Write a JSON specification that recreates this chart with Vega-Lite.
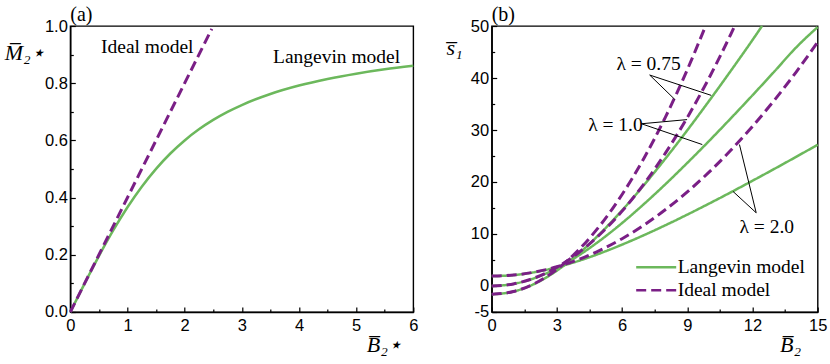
{
  "$schema": "https://vega.github.io/schema/vega-lite/v6.json",
  "padding": {"left": 3.3, "top": 4, "right": 0, "bottom": 0},
  "bounds": "flush",
  "spacing": 78.4,
  "config": {
    "view": {"stroke": "black", "strokeWidth": 1.4},
    "axis": {"grid": false, "domainColor": "black", "domainWidth": 1.4, "tickColor": "black", "tickWidth": 1.2,
      "labelFont": "Liberation Sans", "labelFontSize": 16.5, "labelColor": "black",
      "titleFont": "Liberation Serif", "titleFontStyle": "italic", "titleFontWeight": "normal", "titleFontSize": 22, "titleColor": "black"},
    "title": {"font": "Liberation Serif", "fontSize": 20, "fontWeight": "normal", "anchor": "start", "frame": "group", "baseline": "alphabetic", "offset": -7, "color": "black"},
    "text": {"font": "Liberation Serif", "fontSize": 19.5, "color": "black"}
  },
  "resolve": {"scale": {"color": "independent", "strokeDash": "independent"}},
  "hconcat": [
    {
      "width": 343, "height": 286,
      "title": "(a)",
      "data": {"values": [
        {"B": 0, "M": 0, "model": "Langevin model"},
        {"B": 0.25, "M": 0.0994, "model": "Langevin model"},
        {"B": 0.5, "M": 0.1954, "model": "Langevin model"},
        {"B": 0.75, "M": 0.2850, "model": "Langevin model"},
        {"B": 1, "M": 0.3662, "model": "Langevin model"},
        {"B": 1.25, "M": 0.4381, "model": "Langevin model"},
        {"B": 1.5, "M": 0.5006, "model": "Langevin model"},
        {"B": 1.75, "M": 0.5542, "model": "Langevin model"},
        {"B": 2, "M": 0.5999, "model": "Langevin model"},
        {"B": 2.25, "M": 0.6387, "model": "Langevin model"},
        {"B": 2.5, "M": 0.6716, "model": "Langevin model"},
        {"B": 2.75, "M": 0.6997, "model": "Langevin model"},
        {"B": 3, "M": 0.7237, "model": "Langevin model"},
        {"B": 3.5, "M": 0.7624, "model": "Langevin model"},
        {"B": 4, "M": 0.7918, "model": "Langevin model"},
        {"B": 4.5, "M": 0.8148, "model": "Langevin model"},
        {"B": 5, "M": 0.8333, "model": "Langevin model"},
        {"B": 5.5, "M": 0.8485, "model": "Langevin model"},
        {"B": 6, "M": 0.8611, "model": "Langevin model"},
        {"B": 0, "M": 0, "model": "Ideal model"},
        {"B": 2.475, "M": 0.99, "model": "Ideal model"}
      ]},
      "encoding": {
        "x": {"field": "B", "type": "quantitative", "scale": {"domain": [0, 6], "nice": false},
          "axis": {"values": [0, 0.5, 1, 1.5, 2, 2.5, 3, 3.5, 4, 4.5, 5, 5.5, 6],
            "labelExpr": "datum.value % 1 == 0 ? format(datum.value, 'd') : ''",
            "tickSize": {"condition": {"test": "datum.value % 1 != 0", "value": -3}, "value": -5},
            "labelPadding": 10.5, "labelFlush": false, "labelOverlap": false,
            "title": "B̅₂⋆", "titleAlign": "right", "titleBaseline": "alphabetic", "titleAnchor": "start", "titleX": 331, "titleY": 40}},
        "y": {"field": "M", "type": "quantitative", "scale": {"domain": [0, 1], "nice": false},
          "axis": {"values": [0, 0.1, 0.2, 0.3, 0.4, 0.5, 0.6, 0.7, 0.8, 0.9, 1],
            "labelExpr": "round(datum.value * 10) % 2 == 0 ? format(datum.value, '.1f') : ''",
            "tickSize": {"condition": {"test": "round(datum.value * 10) % 2 == 1", "value": -3}, "value": -5},
            "labelPadding": 8, "labelFlush": false, "labelOverlap": false,
            "title": "M̅₂⋆", "titleAngle": 0, "titleAlign": "left", "titleBaseline": "alphabetic", "titleAnchor": "start", "titleX": -66, "titleY": 33}}
      },
      "layer": [
        {"transform": [{"filter": "datum.model == 'Langevin model'"}],
         "mark": {"type": "line", "color": "#6cb85c", "strokeWidth": 2.5, "interpolate": "monotone"}},
        {"transform": [{"filter": "datum.model == 'Ideal model'"}],
         "mark": {"type": "line", "color": "#7a1f86", "strokeWidth": 3, "strokeDash": [10, 5]}},
        {"transform": [{"filter": "datum.B == 6"}],
         "mark": {"type": "text", "text": "Ideal model", "align": "left", "baseline": "alphabetic"},
         "encoding": {"x": {"datum": 0.537}, "y": {"datum": 0.904}}},
        {"transform": [{"filter": "datum.B == 6"}],
         "mark": {"type": "text", "text": "Langevin model", "align": "left", "baseline": "alphabetic"},
         "encoding": {"x": {"datum": 3.546}, "y": {"datum": 0.869}}}
      ]
    },
    {
      "width": 326, "height": 286,
      "title": "(b)",
      "data": {"values": [
        {"B": 0, "s": -1.6, "lam": "0.75", "model": "Langevin model"},
        {"B": 1, "s": -1.07, "lam": "0.75", "model": "Langevin model"},
        {"B": 2, "s": 0.48, "lam": "0.75", "model": "Langevin model"},
        {"B": 3, "s": 2.96, "lam": "0.75", "model": "Langevin model"},
        {"B": 4, "s": 6.22, "lam": "0.75", "model": "Langevin model"},
        {"B": 5, "s": 10.13, "lam": "0.75", "model": "Langevin model"},
        {"B": 6, "s": 14.55, "lam": "0.75", "model": "Langevin model"},
        {"B": 7, "s": 19.38, "lam": "0.75", "model": "Langevin model"},
        {"B": 8, "s": 24.54, "lam": "0.75", "model": "Langevin model"},
        {"B": 9, "s": 29.95, "lam": "0.75", "model": "Langevin model"},
        {"B": 10, "s": 35.58, "lam": "0.75", "model": "Langevin model"},
        {"B": 11, "s": 41.37, "lam": "0.75", "model": "Langevin model"},
        {"B": 12, "s": 47.31, "lam": "0.75", "model": "Langevin model"},
        {"B": 12.44, "s": 50, "lam": "0.75", "model": "Langevin model"},
        {"B": 0, "s": 0, "lam": "1.0", "model": "Langevin model"},
        {"B": 1, "s": 0.4, "lam": "1.0", "model": "Langevin model"},
        {"B": 2, "s": 1.56, "lam": "1.0", "model": "Langevin model"},
        {"B": 3, "s": 3.42, "lam": "1.0", "model": "Langevin model"},
        {"B": 4, "s": 5.87, "lam": "1.0", "model": "Langevin model"},
        {"B": 5, "s": 8.8, "lam": "1.0", "model": "Langevin model"},
        {"B": 6, "s": 12.11, "lam": "1.0", "model": "Langevin model"},
        {"B": 7, "s": 15.74, "lam": "1.0", "model": "Langevin model"},
        {"B": 8, "s": 19.6, "lam": "1.0", "model": "Langevin model"},
        {"B": 9, "s": 23.67, "lam": "1.0", "model": "Langevin model"},
        {"B": 10, "s": 27.88, "lam": "1.0", "model": "Langevin model"},
        {"B": 11, "s": 32.23, "lam": "1.0", "model": "Langevin model"},
        {"B": 12, "s": 36.68, "lam": "1.0", "model": "Langevin model"},
        {"B": 13, "s": 41.22, "lam": "1.0", "model": "Langevin model"},
        {"B": 14, "s": 45.84, "lam": "1.0", "model": "Langevin model"},
        {"B": 15, "s": 49.8, "lam": "1.0", "model": "Langevin model"},
        {"B": 0, "s": 1.9, "lam": "2.0", "model": "Langevin model"},
        {"B": 1, "s": 2.1, "lam": "2.0", "model": "Langevin model"},
        {"B": 2, "s": 2.68, "lam": "2.0", "model": "Langevin model"},
        {"B": 3, "s": 3.61, "lam": "2.0", "model": "Langevin model"},
        {"B": 4, "s": 4.83, "lam": "2.0", "model": "Langevin model"},
        {"B": 5, "s": 6.3, "lam": "2.0", "model": "Langevin model"},
        {"B": 6, "s": 7.96, "lam": "2.0", "model": "Langevin model"},
        {"B": 7, "s": 9.77, "lam": "2.0", "model": "Langevin model"},
        {"B": 8, "s": 11.7, "lam": "2.0", "model": "Langevin model"},
        {"B": 9, "s": 13.73, "lam": "2.0", "model": "Langevin model"},
        {"B": 10, "s": 15.84, "lam": "2.0", "model": "Langevin model"},
        {"B": 11, "s": 18.01, "lam": "2.0", "model": "Langevin model"},
        {"B": 12, "s": 20.24, "lam": "2.0", "model": "Langevin model"},
        {"B": 13, "s": 22.51, "lam": "2.0", "model": "Langevin model"},
        {"B": 14, "s": 24.82, "lam": "2.0", "model": "Langevin model"},
        {"B": 15, "s": 27.16, "lam": "2.0", "model": "Langevin model"},
        {"B": 0, "s": -1.6, "lam": "0.75", "model": "Ideal model"},
        {"B": 1, "s": -1.07, "lam": "0.75", "model": "Ideal model"},
        {"B": 2, "s": 0.53, "lam": "0.75", "model": "Ideal model"},
        {"B": 3, "s": 3.2, "lam": "0.75", "model": "Ideal model"},
        {"B": 4, "s": 6.93, "lam": "0.75", "model": "Ideal model"},
        {"B": 5, "s": 11.73, "lam": "0.75", "model": "Ideal model"},
        {"B": 6, "s": 17.6, "lam": "0.75", "model": "Ideal model"},
        {"B": 7, "s": 24.53, "lam": "0.75", "model": "Ideal model"},
        {"B": 8, "s": 32.53, "lam": "0.75", "model": "Ideal model"},
        {"B": 9, "s": 41.6, "lam": "0.75", "model": "Ideal model"},
        {"B": 9.84, "s": 50, "lam": "0.75", "model": "Ideal model"},
        {"B": 0, "s": 0, "lam": "1.0", "model": "Ideal model"},
        {"B": 1, "s": 0.4, "lam": "1.0", "model": "Ideal model"},
        {"B": 2, "s": 1.6, "lam": "1.0", "model": "Ideal model"},
        {"B": 3, "s": 3.6, "lam": "1.0", "model": "Ideal model"},
        {"B": 4, "s": 6.4, "lam": "1.0", "model": "Ideal model"},
        {"B": 5, "s": 10, "lam": "1.0", "model": "Ideal model"},
        {"B": 6, "s": 14.4, "lam": "1.0", "model": "Ideal model"},
        {"B": 7, "s": 19.6, "lam": "1.0", "model": "Ideal model"},
        {"B": 8, "s": 25.6, "lam": "1.0", "model": "Ideal model"},
        {"B": 9, "s": 32.4, "lam": "1.0", "model": "Ideal model"},
        {"B": 10, "s": 40, "lam": "1.0", "model": "Ideal model"},
        {"B": 11, "s": 48.4, "lam": "1.0", "model": "Ideal model"},
        {"B": 11.18, "s": 50, "lam": "1.0", "model": "Ideal model"},
        {"B": 0, "s": 1.9, "lam": "2.0", "model": "Ideal model"},
        {"B": 1, "s": 2.1, "lam": "2.0", "model": "Ideal model"},
        {"B": 2, "s": 2.7, "lam": "2.0", "model": "Ideal model"},
        {"B": 3, "s": 3.7, "lam": "2.0", "model": "Ideal model"},
        {"B": 4, "s": 5.1, "lam": "2.0", "model": "Ideal model"},
        {"B": 5, "s": 6.9, "lam": "2.0", "model": "Ideal model"},
        {"B": 6, "s": 9.1, "lam": "2.0", "model": "Ideal model"},
        {"B": 7, "s": 11.7, "lam": "2.0", "model": "Ideal model"},
        {"B": 8, "s": 14.7, "lam": "2.0", "model": "Ideal model"},
        {"B": 9, "s": 18.1, "lam": "2.0", "model": "Ideal model"},
        {"B": 10, "s": 21.9, "lam": "2.0", "model": "Ideal model"},
        {"B": 11, "s": 26.1, "lam": "2.0", "model": "Ideal model"},
        {"B": 12, "s": 30.7, "lam": "2.0", "model": "Ideal model"},
        {"B": 13, "s": 35.7, "lam": "2.0", "model": "Ideal model"},
        {"B": 14, "s": 41.1, "lam": "2.0", "model": "Ideal model"},
        {"B": 15, "s": 46.9, "lam": "2.0", "model": "Ideal model"}
      ]},
      "encoding": {
        "x": {"field": "B", "type": "quantitative", "scale": {"domain": [0, 15], "nice": false},
          "axis": {"values": [0, 1.5, 3, 4.5, 6, 7.5, 9, 10.5, 12, 13.5, 15],
            "labelExpr": "datum.value % 3 == 0 ? format(datum.value, 'd') : ''",
            "tickSize": {"condition": {"test": "datum.value % 3 != 0", "value": -3}, "value": -5},
            "labelPadding": 10.5, "labelFlush": false, "labelOverlap": false,
            "title": "B̅₂", "titleAlign": "right", "titleBaseline": "alphabetic", "titleAnchor": "start", "titleX": 309, "titleY": 40}},
        "y": {"field": "s", "type": "quantitative", "scale": {"domain": [-5, 50], "nice": false},
          "axis": {"values": [-5, 0, 5, 10, 15, 20, 25, 30, 35, 40, 45, 50],
            "labelExpr": "datum.value == -5 ? '-5' : (datum.value % 10 == 0 ? format(datum.value, 'd') : '')",
            "tickSize": {"condition": {"test": "datum.value % 10 != 0 && datum.value != -5", "value": -3}, "value": -5},
            "labelPadding": 8, "labelFlush": false, "labelOverlap": false,
            "title": "s̅₁", "titleAngle": 0, "titleAlign": "left", "titleBaseline": "alphabetic", "titleAnchor": "start", "titleX": -45.7, "titleY": 28}}
      },
      "layer": [
        {"transform": [{"filter": "datum.model == 'Langevin model'"}],
         "mark": {"type": "line", "strokeWidth": 2.5, "interpolate": "monotone"},
         "encoding": {
           "color": {"field": "model", "type": "nominal", "scale": {"domain": ["Langevin model", "Ideal model"], "range": ["#6cb85c", "#7a1f86"]},
             "legend": {"orient": "none", "legendX": 143, "legendY": 229.8, "title": null, "symbolType": "stroke", "symbolSize": 1600, "symbolStrokeWidth": 2.5, "labelFont": "Liberation Serif", "labelFontSize": 19.5, "labelColor": "black", "rowPadding": 0, "clipHeight": 23, "labelOffset": 0, "padding": 0}},
           "strokeDash": {"field": "model", "type": "nominal", "scale": {"domain": ["Langevin model", "Ideal model"], "range": [[1, 0], [10, 5]]},
             "legend": {"orient": "none", "legendX": 143, "legendY": 229.8, "title": null, "symbolType": "stroke", "symbolSize": 1600, "symbolStrokeWidth": 2.5, "labelFont": "Liberation Serif", "labelFontSize": 19.5, "labelColor": "black", "rowPadding": 0, "clipHeight": 23, "labelOffset": 0, "padding": 0}},
           "detail": {"field": "lam"}
         }},
        {"transform": [{"filter": "datum.model == 'Ideal model'"}],
         "mark": {"type": "line", "strokeWidth": 3, "interpolate": "monotone"},
         "encoding": {
           "color": {"field": "model", "type": "nominal"},
           "strokeDash": {"field": "model", "type": "nominal"},
           "detail": {"field": "lam"}
         }},
        {"transform": [{"filter": "datum.B == 15 && datum.lam == '2.0' && datum.model == 'Ideal model'"}],
         "mark": {"type": "rule", "color": "black", "strokeWidth": 1},
         "encoding": {"x": {"datum": 7.27}, "y": {"datum": 40.57}, "x2": {"datum": 8.42}, "y2": {"datum": 35.9}}},
        {"transform": [{"filter": "datum.B == 15 && datum.lam == '2.0' && datum.model == 'Ideal model'"}],
         "mark": {"type": "rule", "color": "black", "strokeWidth": 1},
         "encoding": {"x": {"datum": 7.27}, "y": {"datum": 40.57}, "x2": {"datum": 10.1}, "y2": {"datum": 36.66}}},
        {"transform": [{"filter": "datum.B == 15 && datum.lam == '2.0' && datum.model == 'Ideal model'"}],
         "mark": {"type": "rule", "color": "black", "strokeWidth": 1},
         "encoding": {"x": {"datum": 6.89}, "y": {"datum": 31.2}, "x2": {"datum": 8.99}, "y2": {"datum": 32.0}}},
        {"transform": [{"filter": "datum.B == 15 && datum.lam == '2.0' && datum.model == 'Ideal model'"}],
         "mark": {"type": "rule", "color": "black", "strokeWidth": 1},
         "encoding": {"x": {"datum": 6.89}, "y": {"datum": 31.2}, "x2": {"datum": 9.69}, "y2": {"datum": 27.2}}},
        {"transform": [{"filter": "datum.B == 15 && datum.lam == '2.0' && datum.model == 'Ideal model'"}],
         "mark": {"type": "rule", "color": "black", "strokeWidth": 1},
         "encoding": {"x": {"datum": 12.17}, "y": {"datum": 14.08}, "x2": {"datum": 11.4}, "y2": {"datum": 27.2}}},
        {"transform": [{"filter": "datum.B == 15 && datum.lam == '2.0' && datum.model == 'Ideal model'"}],
         "mark": {"type": "rule", "color": "black", "strokeWidth": 1},
         "encoding": {"x": {"datum": 12.17}, "y": {"datum": 14.08}, "x2": {"datum": 11.1}, "y2": {"datum": 18.2}}},
        {"transform": [{"filter": "datum.B == 15 && datum.lam == '2.0' && datum.model == 'Ideal model'"}],
         "mark": {"type": "text", "text": "λ = 0.75", "align": "left", "baseline": "alphabetic"},
         "encoding": {"x": {"datum": 5.74}, "y": {"datum": 41.5}}},
        {"transform": [{"filter": "datum.B == 15 && datum.lam == '2.0' && datum.model == 'Ideal model'"}],
         "mark": {"type": "text", "text": "λ = 1.0", "align": "left", "baseline": "alphabetic"},
         "encoding": {"x": {"datum": 4.44}, "y": {"datum": 29.9}}},
        {"transform": [{"filter": "datum.B == 15 && datum.lam == '2.0' && datum.model == 'Ideal model'"}],
         "mark": {"type": "text", "text": "λ = 2.0", "align": "left", "baseline": "alphabetic"},
         "encoding": {"x": {"datum": 11.4}, "y": {"datum": 10.2}}}
      ]
    }
  ]
}
